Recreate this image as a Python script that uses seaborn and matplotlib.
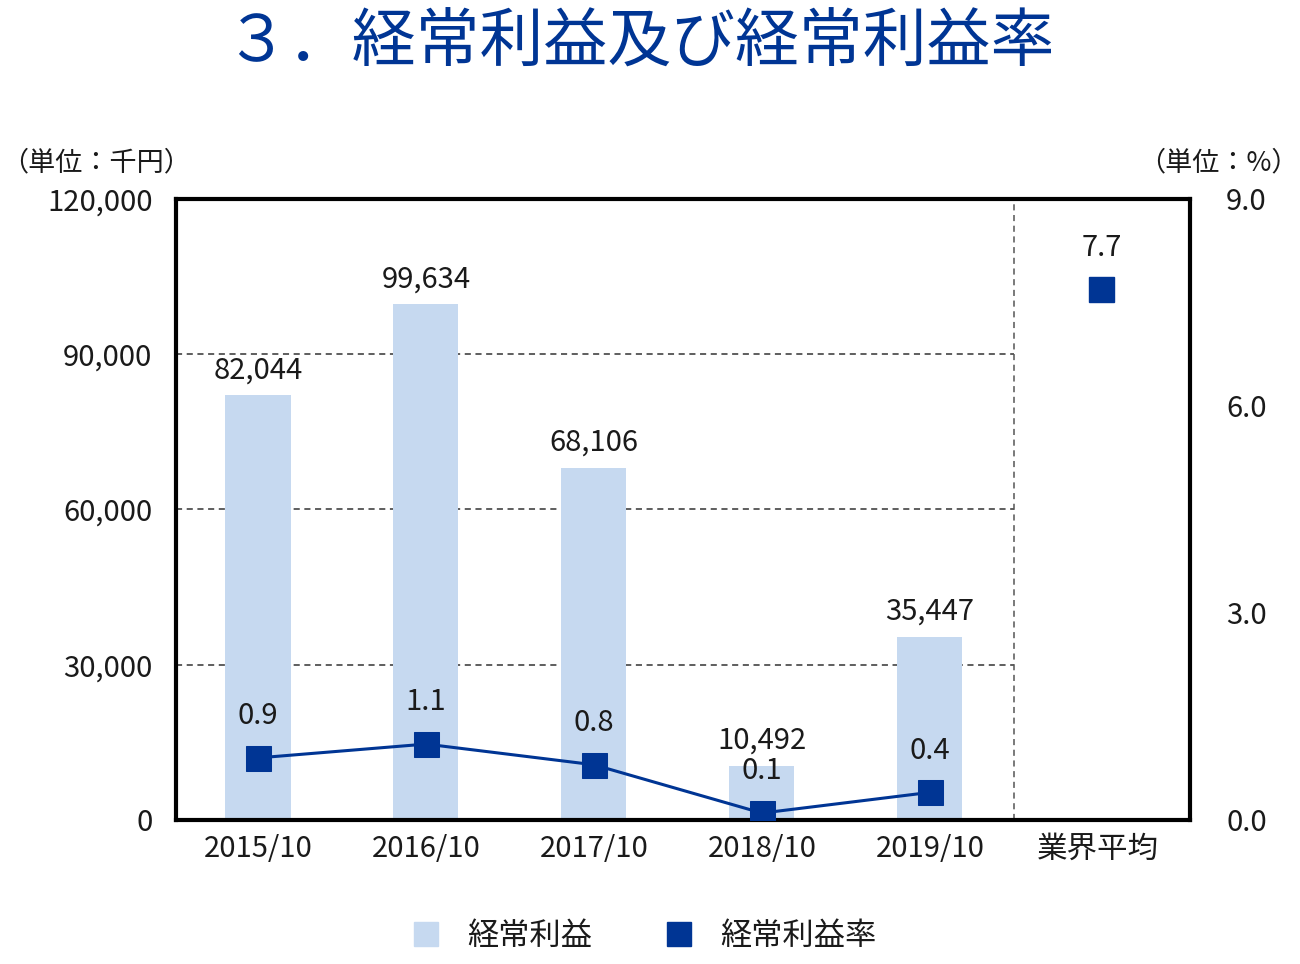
import numpy as np
import pandas as pd
import matplotlib
matplotlib.use("Agg")
import matplotlib.pyplot as plt
from matplotlib.lines import Line2D
import seaborn as sns

# ---- data ----
categories = ["2015/10", "2016/10", "2017/10", "2018/10", "2019/10", "業界平均"]
profit = [82044, 99634, 68106, 10492, 35447]          # 経常利益 (千円)
rate = [0.9, 1.1, 0.8, 0.1, 0.4]                      # 経常利益率 (%)
industry_rate = 7.7                                    # 業界平均
left_ticks = [0, 30000, 60000, 90000, 120000]
right_ticks = [0.0, 3.0, 6.0, 9.0]

sns.set_style("white")
plt.rcParams['font.family'] = ['Noto Sans CJK JP', 'DejaVu Sans']

BAR = "#c6d9f0"
NAVY = "#003594"
TXT = "#1a1a1a"

fig = plt.figure(figsize=(13, 9.64), dpi=100)
ax = fig.add_axes([0.1354, 0.1494, 0.78, 0.6442])

df = pd.DataFrame({"cat": categories[:5], "profit": profit})
sns.barplot(data=df, x="cat", y="profit", order=categories, color=BAR,
            width=0.387, saturation=1, edgecolor="none", ax=ax, zorder=2)

xlim = (-0.488, 5.548)
ax.set_xlim(*xlim)
ax.set_ylim(0, 120000)
ax.set_yticks(left_ticks)
ax.set_yticklabels([f"{v:,}" for v in left_ticks], fontsize=21, color=TXT)
ax.set_xticks(range(len(categories)))
ax.set_xticklabels(categories, fontsize=21, color=TXT)
ax.set_xlabel("")
ax.set_ylabel("")
ax.tick_params(axis="y", length=0, pad=17)
ax.tick_params(axis="x", length=0, pad=10)
ax.get_xticklabels()[-1].set_fontsize(22)

# separator and partial grid
sep = 4.5
frac = (sep - xlim[0]) / (xlim[1] - xlim[0])
for v in left_ticks[1:-1]:
    ax.axhline(v, xmin=0, xmax=frac, color="#333333", lw=1.1,
               ls=(0, (4, 3)), zorder=1)
ax.axvline(sep, color="#555555", lw=1.1, ls=(0, (4, 3)), zorder=1)

for s in ax.spines.values():
    s.set_color("black")
    s.set_linewidth(3)

# bar labels
for i, v in enumerate(profit):
    ax.annotate(f"{v:,}", (i, v), xytext=(0, 18), textcoords="offset points",
                ha="center", va="center", fontsize=21, color=TXT)

# right axis
ax2 = ax.twinx()
ax2.set_ylim(0, 9.0)
ldf = pd.DataFrame({"x": np.arange(len(rate)), "rate": rate})
sns.lineplot(data=ldf, x="x", y="rate", color=NAVY, lw=2.2, marker="s",
             markersize=18, markeredgecolor=NAVY, ax=ax2, zorder=5)
ax2.plot([5.02], [industry_rate], marker="s", markersize=18, color=NAVY, ls="none")
ax2.set_xlim(*xlim)
ax2.set_yticks(right_ticks)
ax2.set_yticklabels([f"{v:.1f}" for v in right_ticks], fontsize=21, color=TXT)
ax2.tick_params(axis="y", length=0, pad=26)
ax2.set_ylabel("")
ax2.set_xlabel("")
for s in ax2.spines.values():
    s.set_visible(False)

for i, v in enumerate(rate):
    ax2.annotate(f"{v:.1f}", (i, v), xytext=(0, 30), textcoords="offset points",
                 ha="center", va="center", fontsize=21, color=TXT)
ax2.annotate(f"{industry_rate:.1f}", (5.02, industry_rate), xytext=(0, 29),
             textcoords="offset points", ha="center", va="center",
             fontsize=21, color=TXT)

# unit labels
fig.text(0.001, 0.831, "（単位：千円）", fontsize=19.5, color=TXT, ha="left", va="center")
fig.text(0.999, 0.831, "（単位：%）", fontsize=19.5, color=TXT, ha="right", va="center")

# title
fig.text(0.492, 0.955, "３．経常利益及び経常利益率", fontsize=46, color=NAVY,
         ha="center", va="center")

# legend
handles = [Line2D([], [], marker="s", ls="none", markersize=17, color=BAR),
           Line2D([], [], marker="s", ls="none", markersize=17, color=NAVY)]
fig.legend(handles, ["経常利益", "経常利益率"], loc="center", ncol=2,
           bbox_to_anchor=(0.495, 0.029), frameon=False, fontsize=22.5,
           handlelength=1.0, columnspacing=2.3, handletextpad=0.8,
           labelcolor=TXT)

fig.savefig("out.png", dpi=100)
